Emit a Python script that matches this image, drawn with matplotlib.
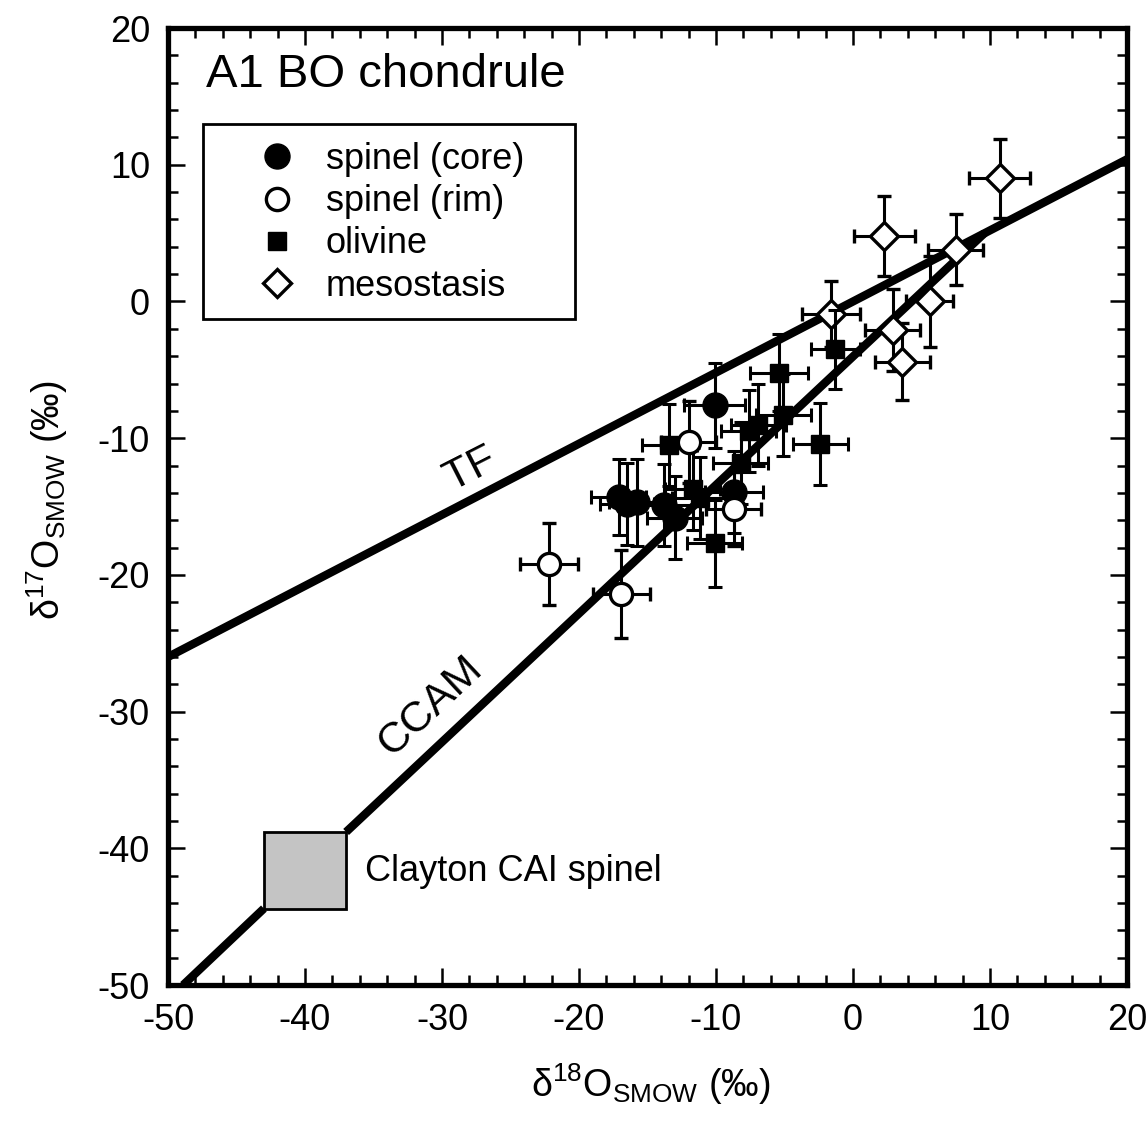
import matplotlib
matplotlib.use('Agg')
import matplotlib.pyplot as plt
from matplotlib.lines import Line2D
from matplotlib.patches import Rectangle
from matplotlib.ticker import MultipleLocator

plt.rcParams['font.family'] = ['Liberation Sans', 'DejaVu Sans']
plt.rcParams['mathtext.fontset'] = 'custom'
plt.rcParams['mathtext.rm'] = 'Liberation Sans'
plt.rcParams['mathtext.it'] = 'Liberation Sans:italic'
plt.rcParams['axes.unicode_minus'] = False

# spinel (core)
core_x = [-10.1, -17.1, -16.5, -15.8, -13.8, -13.0, -8.7]
core_y = [-7.6, -14.3, -14.8, -14.7, -14.9, -15.8, -13.9]
core_xerr = [2.2, 2.0, 2.0, 2.0, 2.1, 2.0, 2.1]
core_yerr = [3.1, 2.8, 3.0, 3.2, 3.0, 3.0, 3.0]

# spinel (rim)
rim_x = [-22.2, -16.9, -12.0, -8.7]
rim_y = [-19.2, -21.4, -10.3, -15.2]
rim_xerr = [2.1, 2.1, 2.0, 2.0]
rim_yerr = [3.0, 3.2, 3.0, 2.7]

# olivine
ol_x = [-1.3, -5.4, -2.4, -5.1, -6.9, -7.6, -13.4, -8.2, -11.7, -11.2, -10.1]
ol_y = [-3.5, -5.2, -10.4, -8.3, -9.0, -9.5, -10.5, -11.8, -13.7, -14.4, -17.7]
ol_xerr = [1.8, 2.1, 2.0, 2.0, 2.0, 2.0, 2.0, 2.0, 2.0, 2.0, 2.0]
ol_yerr = [2.9, 2.8, 3.0, 3.0, 3.0, 3.0, 3.0, 3.0, 3.0, 3.0, 3.2]

# mesostasis
mes_x = [10.7, 2.3, 7.5, -1.6, 2.9, 5.6, 3.6]
mes_y = [9.0, 4.8, 3.8, -0.9, -2.1, 0.0, -4.4]
mes_xerr = [2.2, 2.2, 2.0, 2.1, 2.0, 1.7, 2.0]
mes_yerr = [2.9, 2.9, 2.6, 2.4, 3.0, 3.3, 2.8]

# reference lines
tf_x = [-50, 20]
tf_y = [-26.0, 10.4]
ccam_x1 = [-48.9, -43.0]
ccam_y1 = [-50.0, -44.4]
ccam_x2 = [-37.0, 9.6]
ccam_y2 = [-38.8, 5.0]

# Clayton CAI spinel box (x0, y0, width, height)
cai_box = (-43.0, -44.4, 6.0, 5.6)

fig = plt.figure(figsize=(11.46, 11.31), dpi=100)
ax = fig.add_axes([0.1466, 0.129, 0.8368, 0.8462])

ax.plot(tf_x, tf_y, color='black', lw=6, solid_capstyle='butt', zorder=2)
ax.plot(ccam_x1, ccam_y1, color='black', lw=6, solid_capstyle='butt', zorder=2)
ax.plot(ccam_x2, ccam_y2, color='black', lw=6, solid_capstyle='butt', zorder=2)
ax.add_patch(Rectangle(cai_box[:2], cai_box[2], cai_box[3], facecolor='#c4c4c4',
                       edgecolor='black', lw=2, zorder=3))

eb = dict(ecolor='black', elinewidth=2.2, capsize=5, capthick=2.2, ls='none')
ax.errorbar(mes_x, mes_y, xerr=mes_xerr, yerr=mes_yerr, fmt='D', ms=14,
            mfc='white', mec='black', mew=2.4, zorder=4, **eb)
ax.errorbar(ol_x, ol_y, xerr=ol_xerr, yerr=ol_yerr, fmt='s', ms=13,
            mfc='black', mec='black', zorder=5, **eb)
ax.errorbar(core_x, core_y, xerr=core_xerr, yerr=core_yerr, fmt='o', ms=18,
            mfc='black', mec='black', zorder=6, **eb)
ax.errorbar(rim_x, rim_y, xerr=rim_xerr, yerr=rim_yerr, fmt='o', ms=16,
            mfc='white', mec='black', mew=2.4, zorder=7, **eb)

ax.set_xlim(-50, 20)
ax.set_ylim(-50, 20)
ax.xaxis.set_major_locator(MultipleLocator(10))
ax.xaxis.set_minor_locator(MultipleLocator(2))
ax.yaxis.set_major_locator(MultipleLocator(10))
ax.yaxis.set_minor_locator(MultipleLocator(2))
ax.tick_params(which='both', direction='in', top=True, right=True, width=1.8)
ax.tick_params(which='major', length=12, labelsize=26, pad=13)
ax.tick_params(which='minor', length=7)
for s in ax.spines.values():
    s.set_linewidth(3.8)

ax.set_xlabel(r'δ$^{18}$O$_{\rm SMOW}$ (‰)', fontsize=27, va='top')
ax.xaxis.set_label_coords(0.503, -0.080)
ax.set_ylabel(r'δ$^{17}$O$_{\rm SMOW}$ (‰)', fontsize=27)
ax.yaxis.set_label_coords(-0.102, 0.507)

ax.text(-47.2, 16.6, 'A1 BO chondrule', fontsize=34, va='center', ha='left')
ax.text(-27.9, -12.3, 'TF', fontsize=31, rotation=27, ha='center', va='center')
ax.text(-30.8, -29.6, 'CCAM', fontsize=31, rotation=43, ha='center', va='center')
ax.text(-35.6, -41.7, 'Clayton CAI spinel', fontsize=26, ha='left', va='center')

# legend frame drawn separately so the horizontal padding can be wider
ax.add_patch(Rectangle((0.0365, 0.696), 0.3879, 0.2037, transform=ax.transAxes,
                       facecolor='white', edgecolor='black', lw=2, zorder=8))
handles = [
    Line2D([], [], ls='none', marker='o', ms=18, mfc='black', mec='black'),
    Line2D([], [], ls='none', marker='o', ms=16, mfc='white', mec='black', mew=2.4),
    Line2D([], [], ls='none', marker='s', ms=13, mfc='black', mec='black'),
    Line2D([], [], ls='none', marker='D', ms=14, mfc='white', mec='black', mew=2.4),
]
labels = ['spinel (core)', 'spinel (rim)', 'olivine', 'mesostasis']
leg = ax.legend(handles, labels, loc='upper left', bbox_to_anchor=(0.0876, 0.881),
                borderaxespad=0, borderpad=0, fontsize=26, frameon=False,
                labelspacing=0.2, handletextpad=0.64, handlelength=1.4)
leg.set_zorder(9)

fig.savefig('out.png', dpi=100)
